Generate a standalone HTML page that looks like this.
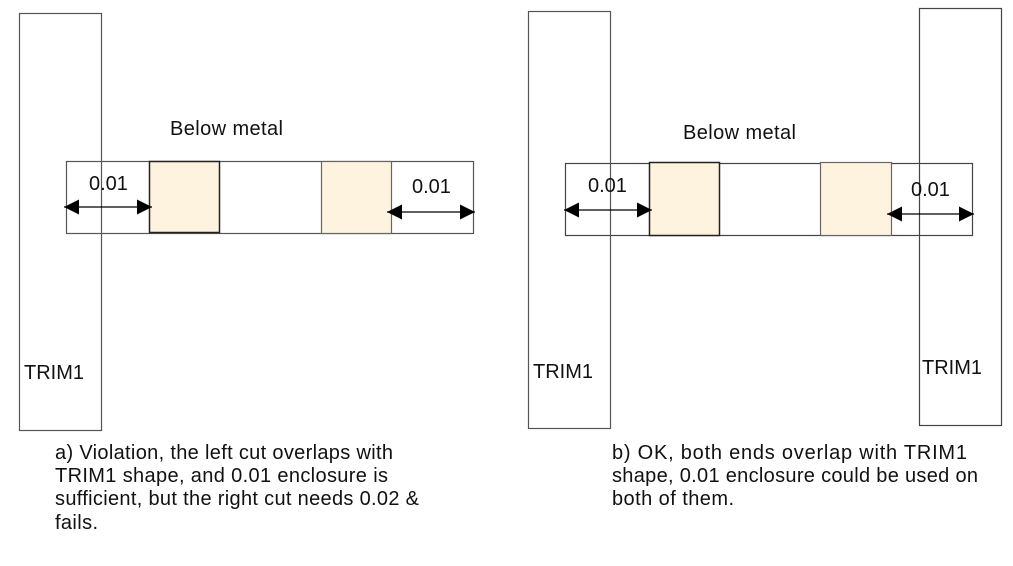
<!DOCTYPE html>
<html><head><meta charset="utf-8"><style>
html,body{margin:0;padding:0;background:#fff;}
svg{display:block;}
text{font-family:"Liberation Sans",Arial,sans-serif;fill:#111;}
</style></head><body>
<svg width="1013" height="566" viewBox="0 0 1013 566" xmlns="http://www.w3.org/2000/svg">
<defs>
<marker id="ah" viewBox="0 0 10 10" refX="10" refY="5" markerWidth="26" markerHeight="15" markerUnits="userSpaceOnUse" orient="auto-start-reverse">
<path d="M0,0 L10,5 L0,10 z" fill="#000"/></marker>
</defs>
<!-- left diagram -->
<rect x="66.5" y="161.5" width="407" height="72" fill="none" stroke="#555" stroke-width="1.2"/>
<rect x="149.5" y="161.5" width="70" height="71" fill="#fdf3de" stroke="#222" stroke-width="1.5"/>
<rect x="321.5" y="161.5" width="70" height="72" fill="#fdf3de" stroke="#666" stroke-width="1.2"/>
<rect x="19.5" y="13.5" width="82" height="417" fill="none" stroke="#555" stroke-width="1.2"/>
<line x1="64" y1="207" x2="152" y2="207" stroke="#000" stroke-width="1.2" marker-start="url(#ah)" marker-end="url(#ah)"/>
<line x1="387" y1="212" x2="475" y2="212" stroke="#000" stroke-width="1.2" marker-start="url(#ah)" marker-end="url(#ah)"/>
<text x="170" y="135" font-size="20" textLength="113">Below metal</text>
<text x="89" y="190" font-size="20">0.01</text>
<text x="412" y="193" font-size="20">0.01</text>
<text x="24" y="379" font-size="20">TRIM1</text>
<text font-size="20"><tspan x="55" y="459" textLength="338">a) Violation, the left cut overlaps with</tspan><tspan x="55" y="482" textLength="333">TRIM1 shape, and 0.01 enclosure is</tspan><tspan x="55" y="505" textLength="364">sufficient, but the right cut needs 0.02 &amp;</tspan><tspan x="55" y="529" textLength="43">fails.</tspan></text>
<!-- right diagram -->
<rect x="565.5" y="163.5" width="407" height="72" fill="none" stroke="#444" stroke-width="1.2"/>
<rect x="649.5" y="162.5" width="70" height="73" fill="#fdf3de" stroke="#222" stroke-width="1.5"/>
<rect x="820.5" y="162.5" width="71" height="73" fill="#fdf3de" stroke="#666" stroke-width="1.2"/>
<rect x="528.5" y="11.5" width="82" height="417" fill="none" stroke="#555" stroke-width="1.2"/>
<rect x="919.5" y="8.5" width="82" height="417" fill="none" stroke="#444" stroke-width="1.2"/>
<line x1="564" y1="210" x2="652" y2="210" stroke="#000" stroke-width="1.2" marker-start="url(#ah)" marker-end="url(#ah)"/>
<line x1="887" y1="214" x2="974" y2="214" stroke="#000" stroke-width="1.2" marker-start="url(#ah)" marker-end="url(#ah)"/>
<text x="683" y="139" font-size="20" textLength="113">Below metal</text>
<text x="588" y="192" font-size="20">0.01</text>
<text x="911" y="196" font-size="20">0.01</text>
<text x="533" y="378" font-size="20">TRIM1</text>
<text x="922" y="374" font-size="20">TRIM1</text>
<text font-size="20"><tspan x="612" y="459" textLength="355">b) OK, both ends overlap with TRIM1</tspan><tspan x="612" y="482" textLength="366">shape, 0.01 enclosure could be used on</tspan><tspan x="612" y="505" textLength="122">both of them.</tspan></text>
</svg>
</body></html>
